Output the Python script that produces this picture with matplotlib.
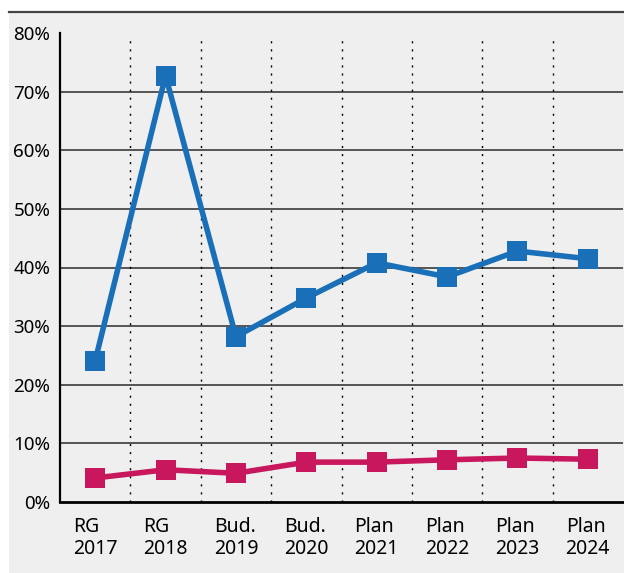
import matplotlib.pyplot as plt
from matplotlib.patches import Rectangle
from matplotlib.lines import Line2D

categories = ['RG\n2017', 'RG\n2018', 'Bud.\n2019', 'Bud.\n2020',
              'Plan\n2021', 'Plan\n2022', 'Plan\n2023', 'Plan\n2024']
blue_values = [24.1, 72.7, 28.2, 34.8, 40.8, 38.4, 42.8, 41.5]
red_values = [4.1, 5.5, 4.9, 6.8, 6.8, 7.2, 7.5, 7.3]
y_ticks = [0, 10, 20, 30, 40, 50, 60, 70, 80]

bg = '#efefef'
blue = '#1a70b8'
red = '#c8175d'

plt.rcParams['font.family'] = ['Noto Sans', 'DejaVu Sans']

W, H = 624, 573
fig = plt.figure(figsize=(W / 100, H / 100), dpi=100)
fig.patch.set_facecolor('white')

# gray panel with dark rule on top
fig.patches.append(Rectangle((9 / W, 0), 1 - 9 / W, 1 - 12 / H,
                             transform=fig.transFigure, facecolor=bg,
                             edgecolor='none', zorder=-2))
fig.lines.append(Line2D([9 / W, 1], [1 - 12 / H, 1 - 12 / H],
                        transform=fig.transFigure, color='#444444', lw=1.6))

left, right = 60 / W, 623 / W
bottom, top = 1 - 502 / H, 1 - 33 / H
ax = fig.add_axes([left, bottom, right - left, top - bottom])
ax.set_facecolor(bg)
ax.set_zorder(1)

x = list(range(len(categories)))
ax.set_xlim(-0.5, len(categories) - 0.5)
ax.set_ylim(0, 80)

# horizontal grid lines (not at 0 or 80)
for t in y_ticks[1:-1]:
    ax.axhline(t, color='#2b2b2b', lw=1.1, zorder=1)

# dotted separators between categories
for i in range(len(categories) - 1):
    ax.axvline(i + 0.5, ymax=79.6 / 80, color='black', lw=1.0,
               linestyle=(0, (1.5, 4.3)), zorder=1)

ax.plot(x, blue_values, color=blue, lw=4.0, marker='s', markersize=15,
        markeredgewidth=0, zorder=3)
ax.plot(x, red_values, color=red, lw=4.0, marker='s', markersize=15,
        markeredgewidth=0, zorder=3)

ax.set_xticks(x)
ax.set_xticklabels(categories, fontsize=14, linespacing=1.1,
                   multialignment='left')
ax.set_yticks(y_ticks)
ax.set_yticklabels([f'{t}%' for t in y_ticks], fontsize=13.5)
ax.tick_params(axis='x', length=0, pad=11)
ax.tick_params(axis='y', length=0, pad=7)

for side in ['top', 'right']:
    ax.spines[side].set_visible(False)
ax.spines['left'].set_color('black')
ax.spines['left'].set_linewidth(1.6)
ax.spines['bottom'].set_color('black')
ax.spines['bottom'].set_linewidth(2.0)

fig.savefig('out.png', dpi=100, facecolor=fig.get_facecolor())
